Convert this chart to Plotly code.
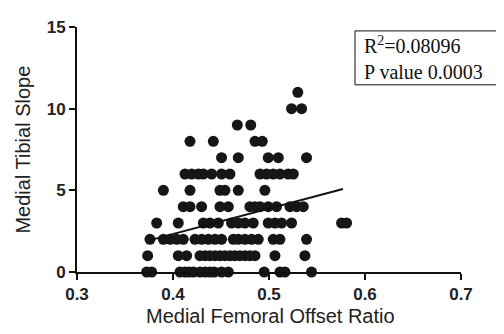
import plotly.graph_objects as go

# Medial femoral offset ratio values, grouped by medial tibial slope (integer)
slope_0 = [0.3726, 0.3778, 0.4073, 0.4125, 0.4166, 0.4212, 0.4281, 0.4333, 0.4385, 0.4430, 0.4506, 0.4576, 0.495, 0.5114, 0.5166, 0.5443]
slope_1 = [0.3736, 0.4055, 0.4142, 0.4281, 0.4333, 0.4385, 0.4437, 0.4489, 0.4541, 0.4593, 0.4645, 0.4697, 0.4749, 0.4801, 0.4854, 0.5062, 0.5374]
slope_2 = [0.376, 0.390, 0.397, 0.404, 0.4107, 0.4229, 0.4298, 0.4368, 0.4437, 0.4506, 0.4628, 0.468, 0.4749, 0.4819, 0.4888, 0.5044, 0.5114, 0.5391]
slope_3 = [0.383, 0.4055, 0.4316, 0.4385, 0.4472, 0.461, 0.468, 0.4749, 0.4836, 0.4992, 0.5062, 0.5131, 0.5235, 0.5756, 0.5808]
slope_4 = [0.4107, 0.4177, 0.4298, 0.4489, 0.4576, 0.4801, 0.4854, 0.4906, 0.4992, 0.5079, 0.5218, 0.5287, 0.5357]
slope_5 = [0.390, 0.4177, 0.4489, 0.4541, 0.468, 0.4957]
slope_6 = [0.4125, 0.4194, 0.4264, 0.4316, 0.4402, 0.4506, 0.4593, 0.4906, 0.4975, 0.5044, 0.5114, 0.520, 0.5253]
slope_7 = [0.4506, 0.468, 0.4992, 0.5097, 0.5391]
slope_8 = [0.4177, 0.442, 0.4854, 0.493]
slope_9 = [0.467, 0.481]
slope_10 = [0.5235, 0.534]
slope_11 = [0.530]

groups = [slope_0, slope_1, slope_2, slope_3, slope_4, slope_5,
          slope_6, slope_7, slope_8, slope_9, slope_10, slope_11]

# Regression line end points
fit_x = [0.376, 0.577]
fit_y = [1.95, 5.08]

x_ticks = [0.3, 0.4, 0.5, 0.6, 0.7]
y_ticks = [0, 5, 10, 15]

xs, ys = [], []
for slope, vals in enumerate(groups):
    xs.extend(vals)
    ys.extend([slope] * len(vals))

fig = go.Figure()
fig.add_trace(go.Scatter(x=xs, y=ys, mode="markers",
                         marker=dict(size=11, color="#161616"),
                         cliponaxis=False, showlegend=False))
fig.add_trace(go.Scatter(x=fit_x, y=fit_y, mode="lines",
                         line=dict(color="#111111", width=2),
                         cliponaxis=False, showlegend=False))

tickfont = dict(family="Liberation Sans, Arial, sans-serif", size=17, color="#222222")
fig.update_xaxes(range=[0.3, 0.7], tickvals=x_ticks, ticktext=["<b>%.1f</b>" % v for v in x_ticks],
                 showline=True, linecolor="#111111", linewidth=2,
                 ticks="outside", ticklen=6, tickwidth=2, tickcolor="#111111",
                 showgrid=False, zeroline=False, tickfont=tickfont)
fig.update_yaxes(range=[0, 15], tickvals=y_ticks, ticktext=["<b>%d</b>" % v for v in y_ticks],
                 showline=True, linecolor="#111111", linewidth=2,
                 ticks="outside", ticklen=6, tickwidth=2, tickcolor="#111111",
                 showgrid=False, zeroline=False, tickfont=tickfont)

titlefont = dict(family="Liberation Sans, Arial, sans-serif", size=20, color="#222222")
fig.add_annotation(text="Medial Femoral Offset Ratio", xref="paper", yref="paper",
                   x=0.505, y=-0.18, xanchor="center", yanchor="middle",
                   showarrow=False, font=titlefont)
fig.add_annotation(text="Medial Tibial Slope", xref="paper", yref="paper",
                   x=-0.143, y=0.5, xanchor="center", yanchor="middle", textangle=-90,
                   showarrow=False, font=titlefont)

# Statistics box: frame drawn as a shape, text as an annotation inside it
fig.add_shape(type="rect", xref="paper", yref="paper",
              x0=0.724, x1=1.1016, y0=0.764, y1=0.984,
              line=dict(color="#111111", width=1), fillcolor="white", layer="above")
fig.add_annotation(text="R<sup>2</sup>=0.08096<br>P value 0.0003", xref="paper", yref="paper",
                   x=0.742, y=0.874, xanchor="left", yanchor="middle", align="left",
                   showarrow=False,
                   font=dict(family="Liberation Serif, Times New Roman, serif", size=20, color="#111111"))

# The page places the figure 8px in from the top-left corner
fig.update_layout(width=496, height=326, margin=dict(l=69, r=43, t=10, b=62),
                  plot_bgcolor="white", paper_bgcolor="white")
fig.write_html("out.html")
